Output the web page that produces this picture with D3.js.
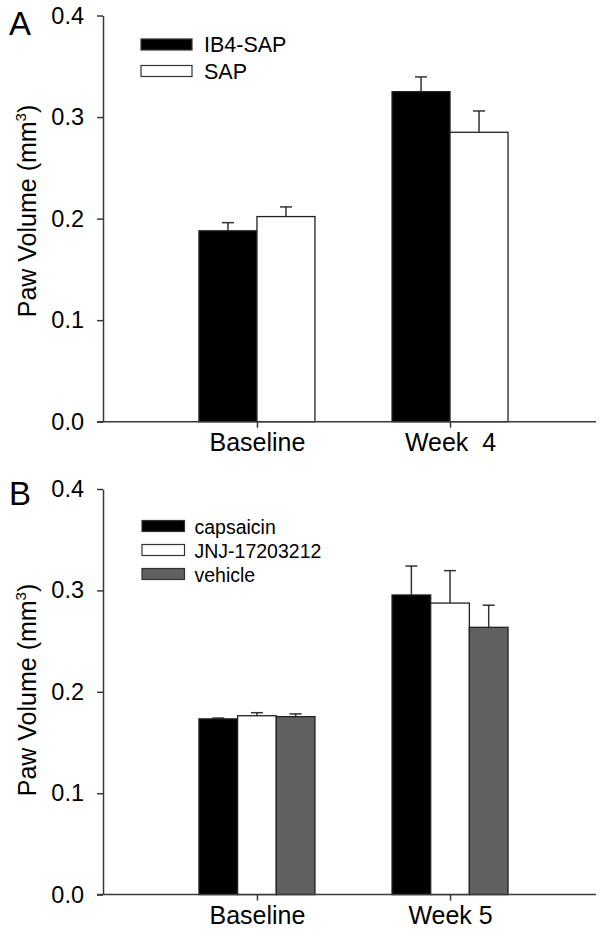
<!DOCTYPE html>
<html><head><meta charset="utf-8">
<script src="https://cdn.jsdelivr.net/npm/d3@7"></script>
<style>
body{margin:0;background:#fff;}
svg{display:block;font-family:"Liberation Sans",Arial,sans-serif;}
</style></head>
<body>
<svg id="c" width="600" height="939"></svg>
<script>
// ---- Data ----
const categoriesA = ["Baseline", "Week  4"];
const seriesA = ["IB4-SAP", "SAP"];
const meansA = [[0.188, 0.202], [0.325, 0.285]];   // [category][series]
const errorsA = [[0.008, 0.0095], [0.0145, 0.021]];

const categoriesB = ["Baseline", "Week 5"];
const seriesB = ["capsaicin", "JNJ-17203212", "vehicle"];
const meansB = [[0.1733, 0.1764, 0.1755], [0.2955, 0.2875, 0.2636]];
const errorsB = [[0.0008, 0.003, 0.0027], [0.0285, 0.032, 0.0218]];

const yTicks = [0.0, 0.1, 0.2, 0.3, 0.4];
const fillsA = ["#000000", "#ffffff"];
const fillsB = ["#000000", "#ffffff", "#606060"];

const svg = d3.select("#c");
const axisColor = "#3a3a3a";

function panel(o) {
  const g = svg.append("g");
  const y = d3.scaleLinear().domain([0, 0.4]).range([o.y0, o.y1]);
  const x = d3.scalePoint().domain(o.categories).range([111, 596]).padding(0.756);
  const inner = d3.scaleBand().domain(o.series).range([-58, 58]).padding(0);

  // bars
  o.categories.forEach((c, ci) => {
    o.series.forEach((s, si) => {
      const v = o.means[ci][si], e = o.errors[ci][si];
      const bx = x(c) + inner(s), bw = inner.bandwidth();
      const cx = bx + bw / 2;
      g.append("line").attr("x1", cx).attr("x2", cx)
        .attr("y1", y(v)).attr("y2", y(v + e))
        .attr("stroke", "#333").attr("stroke-width", 1.5);
      g.append("line").attr("x1", cx - 6).attr("x2", cx + 6)
        .attr("y1", y(v + e)).attr("y2", y(v + e))
        .attr("stroke", "#333").attr("stroke-width", 1.5);
      g.append("rect").attr("x", bx).attr("y", y(v))
        .attr("width", bw).attr("height", y(0) - y(v))
        .attr("fill", o.fills[si]).attr("stroke", "#222").attr("stroke-width", 1.3);
    });
  });

  // y axis
  const ya = g.append("g").attr("transform", "translate(103,0)")
    .call(d3.axisLeft(y).tickValues(yTicks).tickFormat(d3.format(".1f")).tickSize(6).tickSizeOuter(0).tickPadding(13));
  ya.select(".domain").attr("stroke", axisColor).attr("stroke-width", 1.5);
  ya.selectAll(".tick line").attr("stroke", axisColor).attr("stroke-width", 1.5);
  ya.selectAll(".tick text").attr("fill", "#000").style("font-size", "23.5px")
    .style("font-family", "'Liberation Sans',Arial,sans-serif");

  // x axis
  const xa = g.append("g").attr("transform", `translate(0,${o.y0})`)
    .call(d3.axisBottom(x).tickSize(6).tickSizeOuter(0).tickPadding(6));
  xa.select(".domain").remove();
  xa.append("line").attr("x1", 97).attr("x2", 596).attr("y1", 0).attr("y2", 0)
    .attr("stroke", axisColor).attr("stroke-width", 1.5);
  xa.selectAll(".tick line").attr("stroke", axisColor).attr("stroke-width", 1.5);
  xa.selectAll(".tick text").attr("fill", "#000").style("font-size", "25px")
    .style("white-space", "pre")
    .style("font-family", "'Liberation Sans',Arial,sans-serif");

  // y label
  const yl = g.append("text")
    .attr("transform", `translate(36,${o.labelY}) rotate(-90)`)
    .attr("text-anchor", "middle").style("font-size", "25px").attr("fill", "#000");
  yl.append("tspan").text("Paw Volume (mm");
  yl.append("tspan").attr("dy", -10).style("font-size", "15px").text("3");
  yl.append("tspan").attr("dy", 10).text(")");

  // panel letter
  g.append("text").attr("x", 9).attr("y", o.letterY).style("font-size", "33px")
    .attr("fill", "#000").text(o.letter);

  // legend
  o.series.forEach((s, si) => {
    const ly = o.legY + si * o.legStep;
    g.append("rect").attr("x", o.legX).attr("y", ly).attr("width", o.legW).attr("height", 11)
      .attr("fill", o.fills[si]).attr("stroke", "#333").attr("stroke-width", 1.2);
    g.append("text").attr("x", o.legX + o.legW + o.legGap).attr("y", ly + 13)
      .style("font-size", o.legFont + "px").attr("fill", "#000").text(s);
  });
}

panel({categories: categoriesA, series: seriesA, means: meansA, errors: errorsA, fills: fillsA,
  y0: 421.7, y1: 15.5, labelY: 211, letter: "A", letterY: 34.5,
  legX: 141, legY: 39, legStep: 26.5, legW: 51, legGap: 12, legFont: 21.5});

panel({categories: categoriesB, series: seriesB, means: meansB, errors: errorsB, fills: fillsB,
  y0: 894.6, y1: 489, labelY: 690, letter: "B", letterY: 505,
  legX: 142, legY: 520.5, legStep: 24, legW: 42.5, legGap: 10, legFont: 19.5});
</script>
</body></html>
